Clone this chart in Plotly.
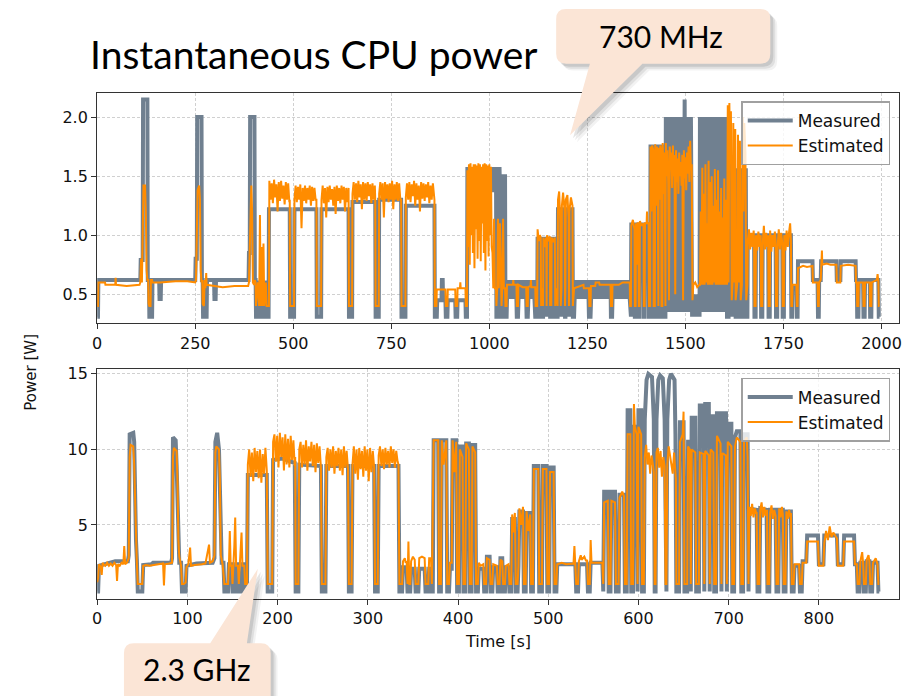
import plotly.graph_objects as go

W, H = 921, 696

# ---------------- data: top panel (730 MHz) ----------------
TOP_X_TICKS = [0, 250, 500, 750, 1000, 1250, 1500, 1750, 2000]
TOP_Y_TICKS = [0.5, 1.0, 1.5, 2.0]
BOT_X_TICKS = [0, 100, 200, 300, 400, 500, 600, 700, 800]
BOT_Y_TICKS = [5, 10, 15]

TOP_MEAS_STEPS = [
    (0, .31), (2, .31), (3, .62), (110, .62), (111, .79), (116, .79), (117, 2.15), (128, 2.15), (129, .62),
    (132, .62), (133, .31), (140, .31), (141, .62), (158, .62), (159, .46), (162, .46), (163, .62), (250, .62),
    (251, .8), (254, .8), (255, 2.0), (266, 2.0), (267, .62), (269, .62), (270, .31), (279, .31), (280, .62),
    (298, .62), (299, .46), (302, .46), (303, .62), (386, .62), (387, .85), (389, .85), (390, 2.0), (401, 2.0),
    (402, .62), (404, .62), (405, .31), (413, .31), (414, .6), (418, .6), (419, .31), (425, .31), (426, .6),
    (429, .6), (430, .31), (437, .31),
    (438, 1.22), (491, 1.22), (492, .31), (502, .31), (503, 1.22), (559, 1.22), (560, .31), (571, .31),
    (572, 1.22), (641, 1.22), (642, .31), (650, .31), (651, 1.28), (709, 1.28), (710, .31), (718, .31),
    (719, 1.3), (775, 1.3), (776, .31), (786, .31), (787, 1.25), (860, 1.25), (861, .31), (866, .31),
    (867, .45), (878, .45), (879, .62), (881, .62), (882, .45), (888, .45), (889, .31), (893, .31), (894, .45),
    (913, .45), (914, .31), (918, .31), (919, .45), (939, .45), (940, .31), (943, .31),
    (944, 1.56), (1007, 1.56), (1008, 1.38), (1012, 1.38), (1013, 1.56), (1017, 1.56), (1018, .31),
    (1021, .31), (1022, 1.56), (1026, 1.56), (1027, 1.38), (1030, 1.38), (1031, .31), (1033, .31),
    (1034, 1.5), (1040, 1.5), (1041, .31), (1044, .31),
    (1070, .31), (1073, .31), (1095, .31), (1098, .31), (1117, .31), (1122, .31),
    (1123, .97), (1131, .97), (1132, .31), (1137, .31), (1138, .97), (1145, .97), (1146, .31), (1147, .97),
    (1154, .97), (1155, .31), (1158, .31), (1159, .97), (1167, .97), (1168, .31), (1174, .31),
    (1175, 1.22), (1181, 1.22), (1182, .31), (1184, .31), (1185, 1.22), (1192, 1.22), (1193, .31),
    (1194, .31), (1195, 1.22), (1202, 1.22), (1203, .31), (1204, 1.22), (1212, 1.22), (1213, .31), (1216, .31),
    (1254, .31), (1258, .31), (1310, .31), (1313, .31), (1359, .31), (1361, .31),
    (1362, 1.09), (1370, 1.09), (1371, .31), (1373, .31), (1374, 1.09), (1380, 1.09), (1381, .31),
    (1383, .31), (1384, 1.09), (1393, 1.09), (1394, .31), (1396, .31), (1397, 1.09), (1406, 1.09),
    (1407, .31), (1410, .31),
    (1411, 1.75), (1418, 1.75), (1419, .31), (1422, .31), (1423, 1.75), (1429, 1.75), (1430, .31),
    (1431, .31), (1432, 1.75), (1438, 1.75), (1439, .31), (1441, .31), (1442, 1.75), (1447, 1.75),
    (1448, .31), (1449, .31),
    (1517, .31), (1536, .31), (1606, .31),
    (1610, .31), (1611, 1.6), (1617, 1.6), (1618, .31), (1620, .31), (1621, 1.55), (1627, 1.55), (1628, .31),
    (1633, .31), (1634, 1.5), (1640, 1.5), (1641, .31), (1645, .31), (1646, 1.55), (1654, 1.55), (1655, .31),
    (1658, .31),
    (1659, 1.0), (1675, 1.0), (1676, .31), (1679, .31), (1680, 1.0), (1692, 1.0), (1693, .31), (1696, .31),
    (1697, 1.0), (1711, 1.0), (1712, .31), (1715, .31), (1716, 1.0), (1730, 1.0), (1731, .31), (1734, .31),
    (1735, 1.0), (1747, 1.0), (1748, .31), (1751, .31), (1752, 1.0), (1769, 1.0), (1770, .31), (1772, .31),
    (1773, .56), (1783, .56), (1784, .31), (1786, .31), (1787, .78), (1824, .78), (1825, .62), (1837, .62),
    (1838, .31), (1840, .31), (1841, .62), (1845, .62), (1846, .78), (1885, .78), (1886, .62), (1895, .62),
    (1896, .78), (1934, .78), (1935, .62), (1937, .62), (1938, .31), (1941, .31), (1942, .62), (1953, .62),
    (1954, .31), (1957, .31), (1958, .62), (1970, .62), (1971, .31), (1974, .31), (1975, .62), (1992, .62),
    (1993, .31), (1995, .31),
]
# dense stretches: (start time, sample step, values)
TOP_MEAS_1045 = (1045, 2, [.46, .62, .46, .62, .46, .62, .46, .62, .46, .62, .46, .62, .46])
TOP_MEAS_1074 = (1074, 2, [.46, .62, .46, .62, .46, .62, .46, .62, .46, .62, .46])
TOP_MEAS_1099 = (1099, 2, [.46, .62, .46, .62, .46, .62, .46, .62, .46])
TOP_MEAS_1217 = (1217, 2, [.46, .62, .46, .62, .46, .62, .46, .62, .46, .62, .46, .62, .46, .62, .46, .62,
                           .46, .62, .46])
TOP_MEAS_1259 = (1259, 2, [.46, .62, .46, .62, .46, .62, .46, .62, .46, .62, .46, .62, .46, .62, .46, .62,
                           .46, .62, .46, .62, .46, .62, .46, .62, .46, .62])
TOP_MEAS_1314 = (1314, 2, [.46, .62, .46, .62, .46, .62, .46, .62, .46, .62, .46, .62, .46, .62, .46, .62,
                           .46, .62, .46, .62, .46, .62, .46])
TOP_MEAS_1450 = (1450, 2, [2.0, .35, 2.0, .35, 2.0, .35, 2.0, .35, 2.0, .35, 2.0, .35, 2.0, .35, 2.0, .35,
                           2.0, .35, 2.0, .35, 2.0, .35, 2.0, .35, 2.15, .35, 2.0, .35, 2.0, .35, 2.0, .35,
                           2.0, .35])
TOP_MEAS_1519 = (1519, 2, [.5, .31, .5, .31, .5, .31, .5, .31, .5])
TOP_MEAS_1537 = (1537, 2, [2.0, .35, 2.0, .35, 2.0, .35, 2.0, .35, 2.0, .35, 2.0, .35, 2.0, .35, 2.0, .35,
                           2.0, .35, 2.0, .35, 2.0, .35, 2.0, .35, 2.0, .35, 2.0, .35, 2.0, .35, 2.0, .35,
                           2.0, .35, 2.0])

TOP_EST_STEPS = [
    (0, .4), (2, .4), (3, .6), (20, .6), (21, .58), (46, .58), (47, .64), (48, .58), (75, .57), (108, .58),
    (110, .6), (112, .8), (114, .6), (116, 1.0), (118, 1.42), (122, 1.42), (124, 1.2), (126, .7), (128, .62),
    (130, .62), (131, .42), (133, .4), (136, .4), (137, .62), (140, .62), (141, .6), (160, .6), (200, .61),
    (230, .61), (250, .6), (252, .62), (254, 1.0), (256, 1.38), (260, 1.42), (262, 1.3), (264, .7), (266, .6),
    (268, .62), (269, .42), (272, .4), (274, .62), (276, .55), (278, .68), (279, .58), (300, .57), (320, .56),
    (350, .57), (385, .57), (387, .6), (389, .9), (391, 1.35), (393, 1.42), (395, 1.2), (397, .6), (400, .58),
    (402, .62), (404, .6), (405, .4), (410, .6), (413, .4), (415, 1.17), (417, .4), (420, .9), (421, .4),
    (424, .93), (426, .4), (430, .6), (432, .4), (436, .4), (438, .4),
    (491, 1.3), (492, .4), (502, .4), (559, 1.3), (560, .4), (571, .4), (642, .4), (650, .4), (709, 1.3),
    (710, .4), (718, .4), (775, 1.3), (776, .4), (786, .4), (860, 1.3), (861, .4), (865, .4),
    (866, .54), (888, .54), (889, .4), (893, .4), (894, .54), (913, .54), (914, .4), (918, .4), (919, .55),
    (925, .55), (926, .6), (927, .55), (939, .55), (940, .4), (943, .4),
    (1008, .85), (1010, .55), (1012, 1.14), (1014, .55), (1017, .55), (1018, .4), (1020, .55), (1022, 1.14),
    (1024, .55), (1027, 1.1), (1029, .55), (1031, .4), (1033, .55), (1035, 1.14), (1037, .55), (1040, .55),
    (1041, .4), (1044, .4),
    (1045, .58), (1060, .58), (1061, .62), (1062, .58), (1069, .58), (1070, .4), (1073, .4), (1074, .58),
    (1085, .56), (1094, .56), (1095, .4), (1098, .4), (1099, .56), (1105, .57), (1106, .62), (1107, .56),
    (1117, .56), (1118, .4), (1122, .4),
    (1123, 1.05), (1126, .95), (1129, 1.0), (1131, .98), (1132, .4), (1134, .55), (1137, .4), (1138, .98),
    (1141, .9), (1145, .98), (1146, .4), (1147, 1.0), (1150, .95), (1154, .99), (1155, .4), (1157, .55),
    (1158, .4), (1159, .98), (1163, .94), (1167, .98), (1168, .4), (1171, .55), (1174, .4),
    (1175, 1.3), (1178, 1.37), (1181, 1.1), (1182, .4), (1184, .55), (1185, 1.25), (1188, 1.36), (1192, 1.2),
    (1193, .4), (1194, .55), (1195, 1.3), (1199, 1.34), (1202, 1.15), (1203, .4), (1204, 1.2), (1208, 1.32),
    (1212, 1.25), (1213, .4), (1216, .55),
    (1230, .57), (1240, .58), (1241, .55), (1254, .55), (1255, .4), (1258, .4), (1259, .57), (1270, .57),
    (1271, .6), (1280, .6), (1281, .58), (1309, .58), (1310, .4), (1313, .4), (1314, .58), (1330, .58),
    (1340, .6), (1358, .6), (1359, .4), (1361, .4),
    (1362, 1.08), (1366, 1.13), (1370, 1.05), (1371, .4), (1373, .4), (1374, 1.1), (1377, .75), (1378, 1.1),
    (1380, 1.1), (1381, .4), (1383, .4), (1384, 1.12), (1388, 1.08), (1393, 1.1), (1394, .4), (1396, .4),
    (1397, 1.1), (1401, 1.1), (1402, 1.2), (1403, 1.1), (1406, 1.1), (1407, .4), (1410, .4),
    (1411, 1.75), (1413, 1.2), (1415, 1.76), (1418, 1.72), (1419, .4), (1422, .4), (1423, 1.77), (1425, 1.25),
    (1427, 1.75), (1429, 1.7), (1430, .4), (1431, .4), (1432, 1.74), (1434, 1.3), (1436, 1.76), (1438, 1.7),
    (1439, .4), (1441, .4), (1442, 1.78), (1445, 1.35), (1447, 1.7), (1448, .4), (1449, .4),
    (1518, .45), (1520, .58), (1525, .6), (1530, .56), (1535, .58),
    (1606, .58), (1608, 2.1), (1610, .6), (1612, 2.12), (1614, 1.6), (1616, 2.05), (1618, .45), (1620, .58),
    (1622, 1.95), (1624, .6), (1627, 1.9), (1628, .45), (1632, .58), (1634, 1.85), (1636, .6), (1639, 1.8),
    (1641, .45), (1644, .58), (1646, 2.0), (1648, 1.2), (1650, 1.95), (1653, 1.7), (1655, .45), (1658, .58),
    (1675, .95), (1676, .4), (1679, .4), (1693, .4), (1696, .4), (1711, 1.0), (1712, .4), (1715, .4),
    (1730, .95), (1731, .4), (1734, .4), (1748, .4), (1751, .4), (1769, .95), (1770, .4), (1772, .4),
    (1773, .58), (1783, .58), (1784, .4), (1786, .4), (1787, .72), (1800, .74), (1810, .73), (1824, .74),
    (1825, .6), (1837, .6), (1838, .4), (1840, .4), (1841, .6), (1845, .62), (1846, .75), (1848, .87),
    (1849, .75), (1860, .76), (1870, .75), (1885, .75), (1886, .6), (1895, .6), (1896, .74), (1915, .75),
    (1934, .74), (1935, .6), (1937, .6), (1938, .4), (1941, .4), (1942, .6), (1953, .6), (1954, .4),
    (1957, .4), (1958, .6), (1970, .6), (1971, .4), (1974, .4), (1975, .6), (1988, .62), (1990, .67),
    (1992, .6), (1993, .4), (1995, .4),
]
TOP_EST_A = (439, 3, [1.46, 1.3, 1.44, 1.27, 1.47, 1.32, 1.43, 1.2, 1.45, 1.29, 1.46, 1.31, 1.42, 1.26, 1.45,
                      1.3, 1.44, 1.28])
TOP_EST_B = (503, 3, [1.3, 1.42, 1.28, 1.41, 1.3, 1.43, 1.06, 1.4, 1.29, 1.42, 1.27, 1.4, 1.3, 1.42, 1.25,
                      1.41, 1.29, 1.4, 1.3])
TOP_EST_C = (572, 3, [1.3, 1.42, 1.27, 1.4, 1.15, 1.41, 1.28, 1.42, 1.3, 1.39, 1.25, 1.41, 1.18, 1.42, 1.29,
                      1.4, 1.27, 1.42, 1.3, 1.41, 1.2, 1.4, 1.28, 1.4])
TOP_EST_D = (651, 3, [1.35, 1.45, 1.3, 1.44, 1.28, 1.46, 1.32, 1.43, 1.22, 1.45, 1.3, 1.44, 1.29, 1.45, 1.33,
                      1.43, 1.27, 1.44, 1.3, 1.42])
TOP_EST_E = (719, 3, [1.35, 1.45, 1.3, 1.44, 1.15, 1.45, 1.31, 1.43, 1.28, 1.44, 1.3, 1.46, 1.22, 1.43, 1.3,
                      1.45, 1.29, 1.44, 1.3])
TOP_EST_F = (787, 3, [1.32, 1.44, 1.3, 1.45, 1.28, 1.43, 1.33, 1.46, 1.25, 1.44, 1.3, 1.42, 1.2, 1.45, 1.31,
                      1.44, 1.29, 1.43, 1.32, 1.45, 1.27, 1.42, 1.3, 1.44, 1.35])
TOP_EST_G = (944, 2, [1.55, .9, 1.6, .75, 1.61, 1.0, 1.58, .85, 1.6, .72, 1.6, 1.05, 1.59, .8, 1.61, .95, 1.6,
                      .78, 1.58, 1.1, 1.6, .85, 1.61, .7, 1.6, .95, 1.59, .82, 1.6, 1.0, 1.58, .9])
TOP_EST_H = (1450, 2, [1.78, 1.5, 1.72, 1.45, .45, 1.75, 1.55, 1.7, 1.4, 1.76, 1.5, 1.68, .5, 1.72, 1.45,
                       1.65, 1.35, 1.7, 1.5, 1.62, 1.42, 1.68, .45, 1.72, 1.48, 1.66, 1.38, 1.7, 1.52, 1.75,
                       1.45, 1.8, 1.55, 1.6])
TOP_EST_P = (1537, 2, [.58, 1.2, .58, 1.57, .58, 1.35, .58, 1.6, .6, 1.1, .58, 1.63, .58, 1.45, .58, 1.5,
                       .58, 1.25, .6, 1.56, .58, 1.3, .58, 1.55, .58, 1.2, .58, 1.4, .58, 1.15, .58, 1.48,
                       .58, 1.3, .58])
TOP_EST_I1 = (1659, 3, [.95, 1.05, .88, 1.02, .9, 1.04])
TOP_EST_I2 = (1680, 3, [1.0, .87, 1.03, .9, 1.0])
TOP_EST_I3 = (1697, 3, [.92, 1.08, .88, 1.02, .9])
TOP_EST_I4 = (1716, 3, [1.04, .86, 1.0, .9, 1.03])
TOP_EST_I5 = (1735, 3, [.9, 1.05, .88, 1.02, .93])
TOP_EST_I6 = (1752, 3, [1.0, .87, 1.04, .9, 1.02, 1.1])

# ---------------- data: bottom panel (2.3 GHz) ----------------
BOT_MEAS_STEPS = [
    (0, .6), (1, .6), (2, 2.3), (12, 2.45), (20, 2.6), (34, 2.6), (35, 3.0), (36, 11.0), (40, 11.1), (41, 10.5),
    (42, 6.0), (43, 4.0), (44, 2.7), (45, .6), (50, .6), (51, 2.35), (60, 2.4), (62, 2.5), (82, 2.5), (83, 2.8),
    (84, 10.8), (87, 10.6), (88, 9.0), (90, 5.0), (91, 2.5), (93, 2.5), (94, .6), (98, .6), (99, 2.3),
    (110, 2.45), (128, 2.5), (130, 2.8), (131, 10.5), (133, 11.1), (135, 10.0), (137, 5.0), (138, 2.5),
    (140, 2.5), (141, .6), (145, .6), (146, 2.4), (149, 2.4), (150, .6), (153, .6), (154, 2.4), (156, 2.4),
    (157, .6), (160, .6), (161, 2.4), (163, 2.4), (164, .6), (166, .6),
    (167, 8.3), (188, 8.3), (189, .6), (194, .6), (195, 9.3), (205, 9.4), (219, 9.1), (220, .6), (223, .6),
    (224, 9.0), (248, 8.9), (249, .6), (253, .6), (254, 8.9), (278, 8.9), (279, .6), (282, .6), (283, 8.9),
    (307, 8.9), (308, .6), (311, .6), (312, 8.9), (334, 8.9), (335, .6),
    (338, .6), (339, 2.2), (343, 2.2), (344, .6), (347, .6), (348, 2.1), (352, 2.1), (353, .6), (356, .6),
    (357, 2.1), (363, 2.1), (364, .6), (367, .6), (368, 2.1), (370, 2.1), (371, .6),
    (372, .6), (373, 10.6), (378, 10.6), (379, .6), (381, .6), (382, 10.6), (387, 10.6), (388, .6), (390, .6),
    (391, 2.1), (393, 2.1), (394, 10.6), (398, 10.6), (399, .6), (401, .6), (402, 10.2), (405, 10.2),
    (406, .6), (408, .6), (409, 10.4), (412, 10.4), (413, .6), (415, .6), (416, 10.3), (419, 10.3), (420, .6),
    (422, .6), (423, 2.1),
    (425, 2.1), (428, 2.1), (429, .6), (431, .6), (432, 2.9), (435, 2.9), (436, .6), (438, .6), (439, 2.2),
    (443, 2.2), (444, .6), (446, .6), (447, 2.8), (449, 2.8), (450, .6), (452, .6), (453, 2.2), (456, 2.2),
    (457, .6),
    (459, .6), (460, 5.4), (463, 5.4), (464, .6), (466, .6), (467, 2.3), (468, 5.9), (472, 5.9), (473, .6),
    (475, .6), (476, 5.8), (480, 5.8), (481, .6), (483, .6),
    (484, 8.9), (489, 8.9), (490, .6), (493, .6), (494, 8.9), (498, 8.9), (499, .6), (501, .6), (502, 8.8),
    (506, 8.8), (507, .6), (509, .6),
    (510, 2.4), (530, 2.4), (531, .6), (533, .6), (534, 2.4), (543, 2.4), (544, .6), (546, .6), (547, 2.5),
    (560, 2.5), (561, .6),
    (562, 7.2), (566, 7.2), (567, .6), (569, .6), (570, 7.2), (574, 7.2), (575, .6), (578, .6), (579, 7.0),
    (584, 7.0), (585, .6), (587, .6),
    (588, 12.6), (591, 12.6), (592, .6), (594, .6), (595, 11.5), (598, 11.5), (599, .6), (600, 12.6),
    (603, 12.6), (604, .6), (606, .6),
    (607, 12.0), (609, 14.6), (611, 15.0), (615, 14.8), (617, 12.0), (618, .6), (619, .6), (620, 12.0),
    (622, 14.6), (624, 14.9), (627, 14.7), (629, 12.0), (630, .6), (631, .6), (632, 12.0), (634, 14.6),
    (636, 15.0), (640, 14.6), (641, 11.0), (642, .6), (645, .6),
    (646, 11.8), (650, 11.8), (651, .6), (654, .6), (655, 10.5), (657, 10.5), (658, .6), (659, 12.1),
    (663, 12.1), (664, .6), (667, .6), (668, 12.9), (672, 12.9), (673, .6), (674, 13.0), (678, 13.0),
    (679, .6), (680, 12.2), (683, 12.2), (684, .6), (686, .6), (687, 12.4), (691, 12.4), (692, .6),
    (693, 12.4), (697, 12.4), (698, .6), (699, 11.7), (703, 11.7), (704, .6), (706, .6), (707, 10.8),
    (709, 11.2), (713, 11.2), (714, .6), (716, .6), (717, 11.0), (721, 11.0), (722, .6),
    (723, 6.1), (731, 6.0), (732, .6), (734, .6), (735, 6.1), (742, 6.0), (743, .6), (745, .6), (746, 6.0),
    (752, 6.0), (753, .6), (755, .6), (756, 6.0), (760, 6.0), (761, .6), (763, .6), (764, 5.9), (769, 5.9),
    (770, .6), (772, .6),
    (773, 2.3), (778, 2.3), (779, .6), (781, .6), (782, 2.6), (786, 2.6), (787, 4.3), (799, 4.3), (800, 2.4),
    (805, 2.4), (806, 4.3), (820, 4.3), (821, 2.4), (827, 2.4), (828, 4.3), (839, 4.3), (840, 2.4),
    (842, 2.4), (843, .6), (845, .6), (846, 2.5), (849, 2.5), (850, .6), (852, .6), (853, 2.6), (856, 2.6),
    (857, .6), (859, .6), (860, 2.5), (865, 2.5), (866, .6), (867, .6),
]

BOT_EST_STEPS = [
    (0, 1.2), (1, 1.5), (2, 2.4), (4, 2.2), (5, 1.7), (6, 2.5), (7, 2.4), (9, 2.3), (11, 2.5), (13, 2.3),
    (15, 2.45), (17, 2.3), (19, 2.5), (21, 2.35), (22, 1.3), (23, 2.4), (25, 2.3), (27, 2.5), (29, 2.4),
    (30, 3.6), (31, 2.4), (33, 2.5), (35, 2.8), (36, 9.5), (37, 10.3), (40, 10.2), (41, 9.0), (42, 6.0),
    (43, 3.5), (44, 2.4), (45, 1.1), (50, 1.1), (51, 2.3), (54, 2.35), (58, 2.3), (62, 2.35), (66, 2.4),
    (70, 2.4), (73, 2.45), (74, 1.0), (75, 2.4), (80, 2.45), (83, 2.5), (84, 9.5), (85, 10.1), (88, 9.9),
    (89, 8.0), (90, 4.0), (91, 2.9), (93, 2.3), (94, 1.1), (96, 1.1), (98, 1.2), (99, 2.2), (101, 2.4),
    (103, 3.5), (104, 2.3), (108, 2.35), (112, 2.4), (116, 2.4), (120, 2.45), (124, 3.7), (125, 2.5),
    (128, 2.6), (130, 3.0), (131, 9.8), (132, 10.2), (135, 10.0), (136, 8.0), (137, 3.0), (139, 2.4),
    (141, 1.1), (145, 1.1), (146, 2.3), (147, 4.6), (148, 2.3), (149, 2.3), (150, 1.1), (152, 3.6),
    (153, 5.5), (154, 2.3), (156, 2.3), (157, 1.1), (160, 4.5), (161, 2.3), (163, 2.3), (164, 1.1),
    (166, 1.1),
    (189, 1.1), (194, 1.1), (219.5, 9.5), (220, 1.1), (223, 1.1), (249, 1.1), (253, 1.1), (279, 1.1),
    (282, 1.1), (308, 1.1), (311, 1.1), (334, 9.0), (335, 1.1),
    (338, 1.1), (339, 2.6), (341, 2.8), (342, 2.5), (343, 2.6), (344, 1.1), (345, 3.9), (346, 1.1),
    (347, 1.1), (348, 2.6), (350, 2.9), (352, 2.7), (353, 1.1), (356, 1.1), (357, 2.8), (360, 2.9),
    (363, 2.8), (364, 1.1), (367, 1.1), (368, 2.8), (370, 2.8), (371, 1.1),
    (373, 10.6), (378, 10.6), (379, 1.1), (381, 1.1), (382, 10.6), (384, 9.0), (387, 10.6), (388, 1.1),
    (390, 1.1), (391, 2.5), (393, 2.5), (394, 10.6), (396, 8.5), (398, 10.5), (399, 1.1), (401, 1.1),
    (402, 10.0), (405, 9.5), (406, 1.1), (408, 1.1), (409, 10.4), (412, 10.0), (413, 1.1), (415, 1.1),
    (416, 10.2), (419, 9.8), (420, 1.1), (422, 1.1), (423, 2.5),
    (425, 2.3), (428, 2.4), (429, 1.1), (431, 1.1), (432, 2.8), (435, 2.7), (436, 1.1), (438, 1.1),
    (439, 2.4), (443, 2.3), (444, 1.1), (446, 1.1), (447, 2.7), (449, 2.6), (450, 1.1), (452, 1.1),
    (453, 2.3), (456, 2.4), (457, 1.1),
    (459, 1.1), (460, 5.7), (461, 4.5), (463, 5.8), (464, 1.1), (466, 1.1), (467, 2.3), (468, 6.1),
    (470, 5.0), (472, 6.2), (473, 1.1), (475, 1.1), (476, 5.9), (478, 4.6), (480, 5.7), (481, 1.1),
    (483, 1.1),
    (484, 8.7), (489, 8.7), (490, 1.1), (493, 1.1), (494, 8.7), (498, 8.7), (499, 1.1), (501, 1.1),
    (502, 8.5), (506, 8.5), (507, 1.1), (509, 1.1),
    (510, 2.4), (515, 2.5), (520, 2.4), (528, 2.45), (529, 3.6), (530, 2.5), (531, 1.1), (533, 1.1),
    (534, 2.6), (536, 3.0), (537, 2.7), (540, 2.9), (542, 2.6), (543, 2.7), (544, 1.1), (546, 1.1),
    (547, 4.0), (548, 2.5), (555, 2.5), (560, 2.5), (561, 1.1),
    (562, 6.5), (566, 6.6), (567, 1.1), (569, 1.1), (570, 6.6), (574, 6.5), (575, 1.1), (578, 1.1),
    (579, 6.8), (582, 7.2), (584, 6.9), (585, 1.1), (587, 1.1),
    (588, 11.0), (591, 11.0), (592, 1.1), (594, 1.1), (595, 13.0), (596, 11.5), (598, 11.0), (599, 1.1),
    (600, 11.5), (603, 11.0), (604, 1.1), (606, 1.1),
    (617, 8.5), (618, 1.1), (619, 1.1), (630, 1.1), (631, 1.1), (641.5, 8.0), (642, 1.1), (645, 1.1),
    (646, 10.5), (649, 11.0), (650, 12.5), (651, 1.1), (654, 1.1), (655, 10.2), (657, 10.0), (658, 1.1),
    (659, 10.0), (663, 9.8), (664, 1.1), (667, 1.1), (668, 9.8), (672, 9.7), (673, 1.1), (674, 9.9),
    (678, 9.6), (679, 1.1), (680, 10.0), (683, 9.8), (684, 1.1), (686, 1.1), (687, 10.9), (691, 10.4),
    (692, 1.1), (693, 9.75), (697, 9.6), (698, 1.1), (699, 10.5), (703, 10.2), (704, 1.1), (706, 1.1),
    (707, 10.2), (709, 10.8), (713, 10.5), (714, 1.1), (716, 1.1), (717, 10.5), (720, 10.8), (721, 9.5),
    (722, 1.1),
    (731, 5.8), (732, 1.1), (734, 1.1), (743, 1.1), (745, 1.1), (753, 1.1), (755, 1.1), (760, 5.7),
    (761, 1.1), (763, 1.1), (769, 5.8), (770, 1.1), (772, 1.1),
    (773, 2.4), (778, 2.4), (779, 1.1), (781, 1.1), (782, 2.5), (786, 2.5), (787, 3.9), (799, 3.9),
    (800, 2.3), (805, 2.3), (806, 3.8), (808, 4.6), (810, 4.0), (812, 4.9), (814, 4.2), (816, 4.5),
    (820, 4.1), (821, 2.3), (827, 2.3), (828, 3.9), (839, 3.9), (840, 2.4), (842, 2.4), (843, 1.1),
    (845, 1.1), (846, 2.6), (848, 3.2), (849, 2.5), (850, 1.1), (852, 1.1), (853, 2.7), (855, 3.0),
    (856, 2.6), (857, 1.1), (859, 1.1), (860, 2.5), (863, 2.8), (865, 2.4), (866, 1.1), (867, 1.1),
]
BOT_EST_A = (167, 1.5, [9.0, 10.0, 8.2, 9.8, 7.9, 10.1, 8.5, 9.9, 8.1, 10.0, 7.8, 9.7, 8.4, 10.1, 8.6])
BOT_EST_B = (195, 1.5, [10.5, 11.0, 9.2, 10.9, 8.8, 11.1, 9.5, 10.8, 8.6, 11.0, 9.0, 10.7, 8.8, 10.9, 9.3,
                        10.6, 8.9])
BOT_EST_C = (224, 1.5, [10.0, 10.5, 8.8, 10.3, 9.0, 10.6, 8.6, 10.2, 9.2, 10.5, 8.9, 10.3, 8.5, 10.4, 9.1,
                        10.2, 8.8])
BOT_EST_D = (254, 1.5, [9.5, 10.1, 8.6, 10.0, 8.8, 10.2, 8.4, 9.9, 8.9, 10.1, 8.6, 10.0, 8.3, 10.2, 8.8,
                        9.9, 8.7])
BOT_EST_E = (283, 1.5, [9.0, 10.2, 8.4, 10.0, 8.0, 10.1, 8.7, 9.9, 8.2, 10.2, 8.6, 10.0, 7.9, 10.1, 8.5,
                        9.9, 8.8])
BOT_EST_F = (312, 1.5, [9.6, 10.2, 8.9, 10.0, 8.7, 10.1, 9.0, 9.9, 8.8, 10.2, 9.1, 10.0, 8.8, 9.9, 9.2])
BOT_EST_H1 = (607, 1.5, [9.5, 10.3, 9.0, 9.8, 8.4, 9.6, 9.0])
BOT_EST_H2 = (620, 1.5, [9.8, 10.1, 8.8, 9.9, 8.2, 9.5, 8.9])
BOT_EST_H3 = (632, 1.5, [9.0, 10.2, 9.5, 9.0, 8.4, 9.8, 8.8])
BOT_EST_J1 = (723, 1.5, [6.2, 5.6, 6.4, 5.5, 6.1, 5.8])
BOT_EST_J2 = (735, 1.5, [6.0, 6.5, 5.5, 6.2, 5.6, 6.0])
BOT_EST_J3 = (746, 1.5, [5.8, 6.3, 5.4, 6.0, 5.6])
BOT_EST_J4 = (756, 1.5, [6.1, 5.5, 6.2])
BOT_EST_J5 = (764, 1.5, [5.9, 5.4, 6.0, 5.5])


def build(steps, *bursts):
    pts = list(steps)
    for t0, dt, vals in bursts:
        pts += [(t0 + i * dt, v) for i, v in enumerate(vals)]
    pts.sort(key=lambda p: p[0])
    return [p[0] for p in pts], [p[1] for p in pts]


tm_x, tm_y = build(TOP_MEAS_STEPS, TOP_MEAS_1045, TOP_MEAS_1074, TOP_MEAS_1099, TOP_MEAS_1217,
                   TOP_MEAS_1259, TOP_MEAS_1314, TOP_MEAS_1450, TOP_MEAS_1519, TOP_MEAS_1537)
te_x, te_y = build(TOP_EST_STEPS, TOP_EST_A, TOP_EST_B, TOP_EST_C, TOP_EST_D, TOP_EST_E, TOP_EST_F,
                   TOP_EST_G, TOP_EST_H, TOP_EST_P, TOP_EST_I1, TOP_EST_I2, TOP_EST_I3, TOP_EST_I4,
                   TOP_EST_I5, TOP_EST_I6)
bm_x, bm_y = build(BOT_MEAS_STEPS)
be_x, be_y = build(BOT_EST_STEPS, BOT_EST_A, BOT_EST_B, BOT_EST_C, BOT_EST_D, BOT_EST_E, BOT_EST_F,
                   BOT_EST_H1, BOT_EST_H2, BOT_EST_H3, BOT_EST_J1, BOT_EST_J2, BOT_EST_J3, BOT_EST_J4,
                   BOT_EST_J5)

GREY = "#708090"
ORANGE = "#ff8c00"

fig = go.Figure()
fig.add_trace(go.Scatter(x=tm_x, y=tm_y, mode="lines", name="Measured", line=dict(color=GREY, width=4),
                         xaxis="x", yaxis="y", legend="legend"))
fig.add_trace(go.Scatter(x=te_x, y=te_y, mode="lines", name="Estimated", line=dict(color=ORANGE, width=2),
                         xaxis="x", yaxis="y", legend="legend"))
fig.add_trace(go.Scatter(x=bm_x, y=bm_y, mode="lines", name="Measured", line=dict(color=GREY, width=4),
                         xaxis="x2", yaxis="y2", legend="legend2"))
fig.add_trace(go.Scatter(x=be_x, y=be_y, mode="lines", name="Estimated", line=dict(color=ORANGE, width=2),
                         xaxis="x2", yaxis="y2", legend="legend2"))


def px(x):
    return x / W


def py(y):
    return 1 - y / H


XDOM = [px(93), px(902)]
axis_common = dict(showline=True, mirror=True, linecolor="#333333", linewidth=1.3, ticks="outside",
                   ticklen=5, tickwidth=1.2, tickcolor="#333333", showgrid=True, gridcolor="#d0d0d0",
                   gridwidth=0.8, griddash="3px,2px", zeroline=False,
                   tickfont=dict(family="DejaVu Sans", size=16, color="#111111"))

legend_common = dict(xanchor="right", yanchor="top", bgcolor="rgba(255,255,255,0.8)",
                     bordercolor="#a0a0a0", borderwidth=1.5, itemwidth=45,
                     font=dict(family="DejaVu Sans", size=17, color="#111111"))

fig.update_layout(
    width=W, height=H, margin=dict(l=0, r=0, t=0, b=0),
    paper_bgcolor="white", plot_bgcolor="white",
    xaxis=dict(domain=XDOM, range=[0, 2045], tickvals=TOP_X_TICKS, anchor="y", **axis_common),
    yaxis=dict(domain=[py(321), py(90)], range=[0.255, 2.2], tickvals=TOP_Y_TICKS, tickformat=".1f",
               anchor="x", **axis_common),
    xaxis2=dict(domain=XDOM, range=[0, 889], tickvals=BOT_X_TICKS, anchor="y2", **axis_common),
    yaxis2=dict(domain=[py(598), py(367)], range=[0.13, 15.33], tickvals=BOT_Y_TICKS, anchor="x2",
                **axis_common),
    legend=dict(x=px(893), y=py(98), **legend_common),
    legend2=dict(x=px(893), y=py(376), **legend_common),
)


def path(cmds, dx=0, dy=0):
    out = []
    for c in cmds:
        op, nums = c[0], c[1:]
        pts = []
        for i in range(0, len(nums), 2):
            pts.append(f"{px(nums[i] + dx):.5f},{py(nums[i + 1] + dy):.5f}")
        out.append(op + " " + " ".join(pts))
    return " ".join(out)


BUBBLE1 = [("M", 566, 5), ("L", 762, 5), ("Q", 772, 5, 772, 15), ("L", 772, 50), ("Q", 772, 60, 762, 60),
           ("L", 643, 60), ("L", 570, 132), ("L", 590, 60), ("L", 566, 60), ("Q", 556, 60, 556, 50),
           ("L", 556, 15), ("Q", 556, 5, 566, 5), ("Z",)]
BUBBLE2 = [("M", 130, 643), ("L", 207, 643), ("L", 255, 568), ("L", 244, 643), ("L", 258, 643),
           ("Q", 268, 643, 268, 653), ("L", 268, 712), ("L", 120, 712), ("L", 120, 653),
           ("Q", 120, 643, 130, 643), ("Z",)]

shapes = []
for b in (BUBBLE1, BUBBLE2):
    for off, col in ((7, "rgba(0,0,0,0.05)"), (5, "rgba(0,0,0,0.08)"), (3, "rgba(0,0,0,0.10)")):
        shapes.append(dict(type="path", xref="paper", yref="paper", path=path(b, off, off),
                           fillcolor=col, line=dict(width=0), layer="above"))
    shapes.append(dict(type="path", xref="paper", yref="paper", path=path(b), fillcolor="#fbe5d6",
                       line=dict(width=0), layer="above"))
fig.update_layout(shapes=shapes)

ann = [
    dict(text="Instantaneous CPU power", x=px(84), y=py(50), xanchor="left", yanchor="middle",
         font=dict(family="Lato", size=39, color="#000000")),
    dict(text="730 MHz", x=px(662), y=py(32), xanchor="center", yanchor="middle",
         font=dict(family="Lato", size=30, color="#000000")),
    dict(text="2.3 GHz", x=px(194), y=py(669), xanchor="center", yanchor="middle",
         font=dict(family="Lato", size=30, color="#000000")),
    dict(text="Power [W]", x=px(26), y=py(370), xanchor="center", yanchor="middle", textangle=-90,
         font=dict(family="DejaVu Sans", size=15, color="#111111")),
    dict(text="Time [s]", x=px(497), y=py(641), xanchor="center", yanchor="middle",
         font=dict(family="DejaVu Sans", size=16, color="#111111")),
]
for a in ann:
    a.update(xref="paper", yref="paper", showarrow=False)
fig.update_layout(annotations=ann)

fig.write_html("out.html")
